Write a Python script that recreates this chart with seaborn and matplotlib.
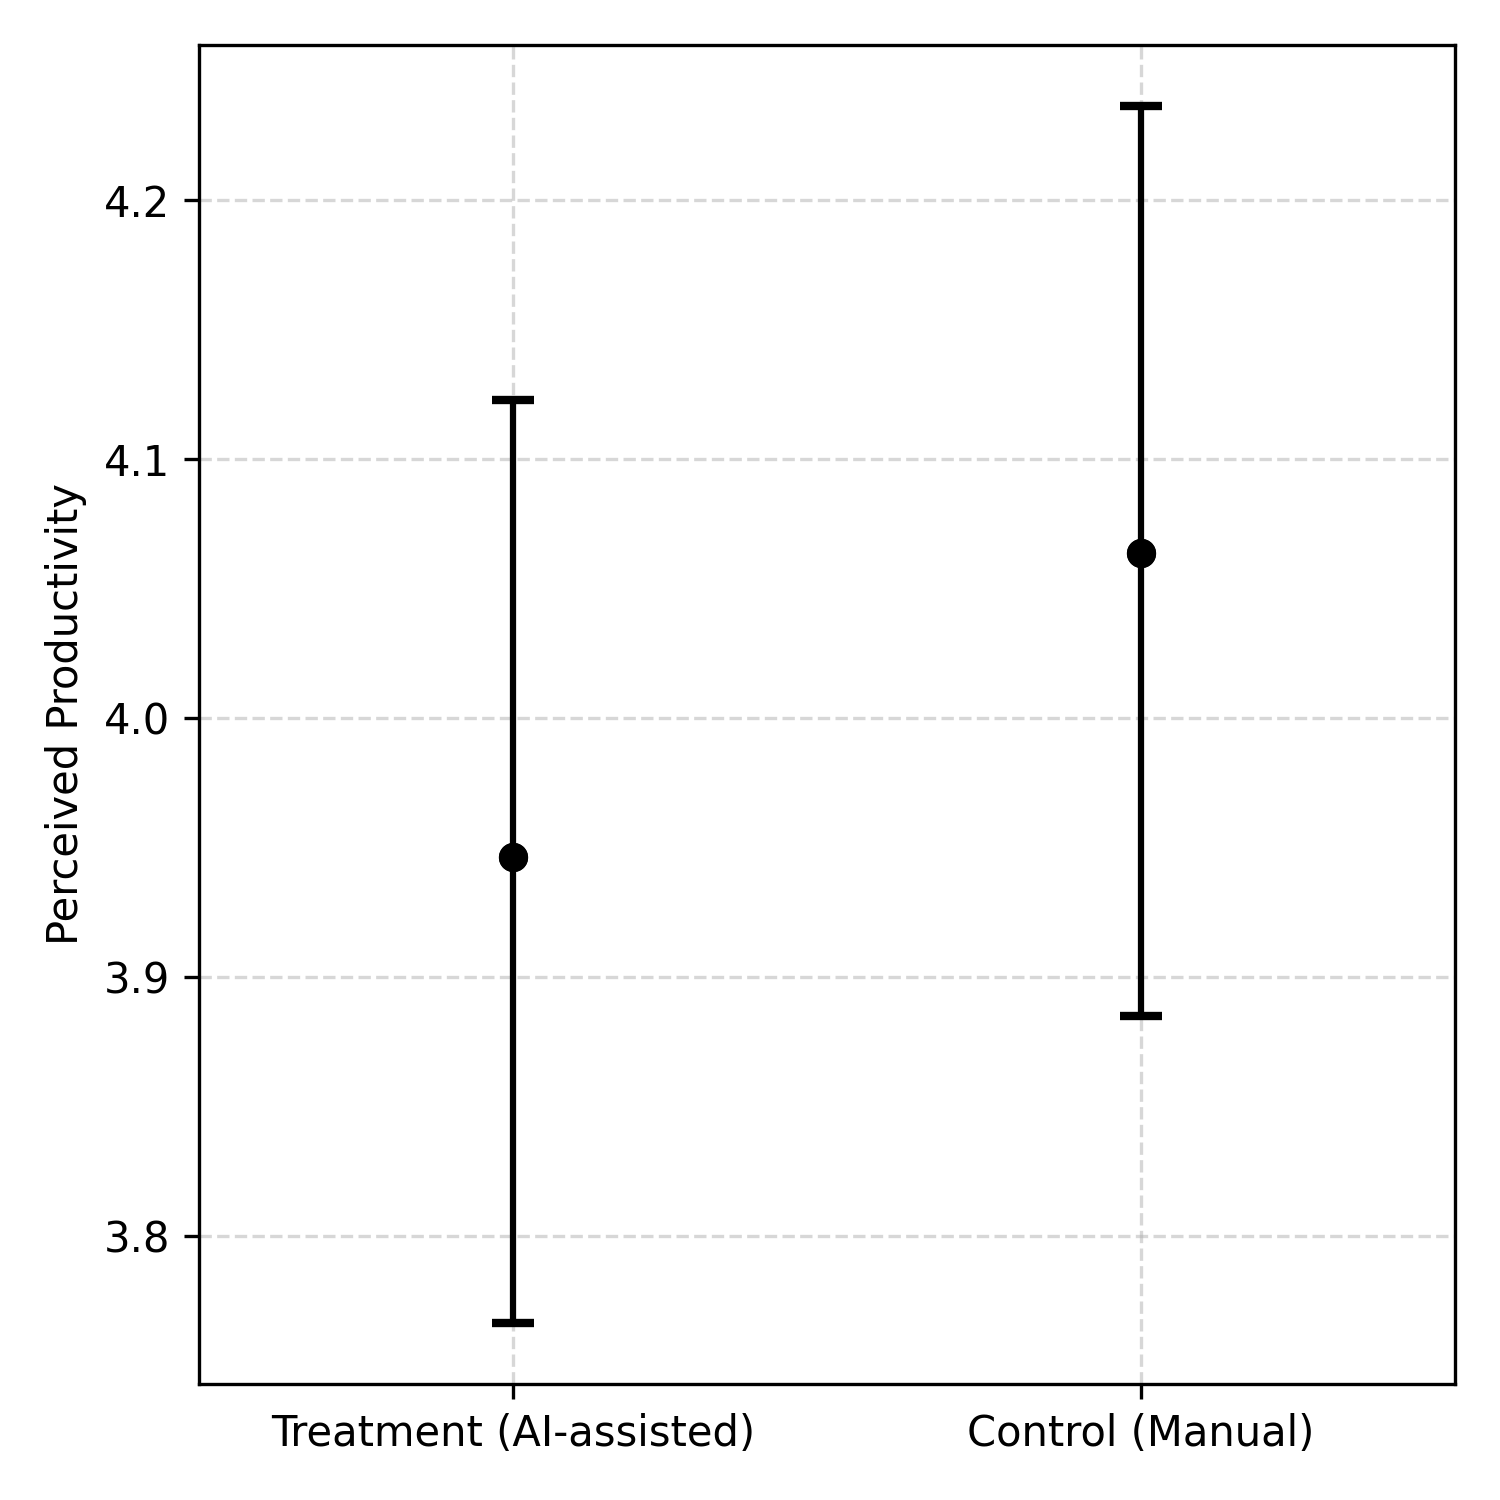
import pandas as pd
import numpy as np
import matplotlib
matplotlib.use('Agg')
import matplotlib.pyplot as plt
import seaborn as sns

# Group means and 95% CI bounds
groups = ['Treatment (AI-assisted)', 'Control (Manual)']
means = [3.9466, 4.0638]
ci_lower = [3.7666, 3.8849]
ci_upper = [4.1230, 4.2364]

df = pd.DataFrame({'group': groups, 'mean': means,
                   'lower': ci_lower, 'upper': ci_upper})

fig, ax = plt.subplots(figsize=(5, 5), dpi=300)

# Points through seaborn (categorical axis), CIs via errorbar
sns.pointplot(data=df, x='group', y='mean', errorbar=None, color='black',
              markers='o', linestyle='none', markersize=6, markeredgewidth=1, ax=ax)
yerr = [df['mean'] - df['lower'], df['upper'] - df['mean']]
ax.errorbar(df['group'], df['mean'], yerr=yerr, fmt='o', color='black',
            ecolor='black', elinewidth=1.5, capsize=5, capthick=2, markersize=6)

ax.set_xlim(-0.5, 1.5)
ax.set_xlabel('')
ax.set_ylabel('Perceived Productivity')
ax.grid(True, linestyle='--', alpha=0.5)

plt.tight_layout()
plt.savefig('out.png', dpi=300)
plt.close()
